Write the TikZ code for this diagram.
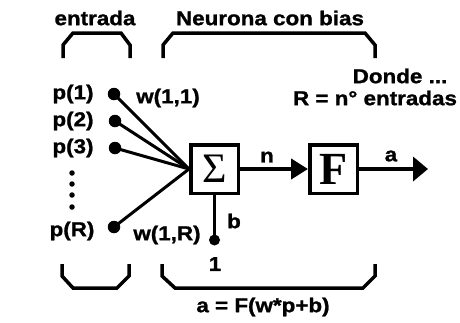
\documentclass[tikz,border=0pt]{standalone}
\usepackage{fontspec}
\setmainfont{Liberation Sans}[FakeStretch=1.12]
\newfontfamily\lblfont{Liberation Sans}[FakeStretch=1.12,FakeBold=1.2]
\newfontfamily\serifbig{Liberation Serif}
\usetikzlibrary{arrows.meta}
\begin{document}
\begin{tikzpicture}[x=1pt,y=-1pt,
 lbl/.style={font=\lblfont\fontsize{20}{22}\selectfont\bfseries, inner sep=0pt},
 brk/.style={line width=3.5pt, line join=miter},
 blk/.style={draw, line width=3.5pt, minimum width=47.5pt, minimum height=48.5pt, inner sep=0pt},
 wire/.style={line width=3pt},
 dotn/.style={circle, fill, inner sep=0pt, minimum size=12.5pt},
 sdot/.style={circle, fill, inner sep=0pt, minimum size=5.5pt},
 arrn/.style={line width=4.5pt, -{Triangle[length=17pt,width=20pt]}},
 arra/.style={line width=4.5pt, -{Triangle[length=15pt,width=24pt]}}
]
\useasboundingbox (0,0) rectangle (460,322);
% headings
\node[lbl] (tin) at (95,18) {entrada};
\node[lbl] (tneu) at (270,18) {Neurona con bias};
\node[lbl] (tdon) at (400,76) {Donde ...};
\node[lbl] (tr) at (375,98) {R = n° entradas};
\node[lbl] (tfor) at (263,307) {a = F(w*p+b)};
% brackets
\draw[brk] (63,58) -- (63,45) -- (73,33) -- (121,33) -- (130,45) -- (130,58);
\draw[brk] (163,58) -- (163,45) -- (173,33) -- (365,33) -- (375,45) -- (375,58);
\draw[brk] (62,264) -- (62,276) -- (73,288) -- (117,288) -- (129,276) -- (129,264);
\draw[brk] (162,264) -- (162,276) -- (175,288) -- (363,288) -- (375,276) -- (375,264);
% inputs
\node[lbl] (p1) at (73,94) {p(1)};
\node[lbl] (p2) at (73,121) {p(2)};
\node[lbl] (p3) at (73,148) {p(3)};
\node[lbl] (pR) at (72,231) {p(R)};
\node[sdot] (v1) at (72,173) {};
\node[sdot] (v2) at (72,184) {};
\node[sdot] (v3) at (72,195) {};
\node[sdot] (v4) at (72,207) {};
\node[dotn] (d1) at (114,94) {};
\node[dotn] (d2) at (115,121) {};
\node[dotn] (d3) at (115,148) {};
\node[dotn] (dR) at (114,227) {};
\node[lbl] (w11) at (168,98) {w(1,1)};
\node[lbl] (w1R) at (167,235) {w(1,R)};
% blocks
\node[blk] (sig) at (214.5,169) {\serifbig\fontsize{42}{42}\selectfont\raisebox{1pt}{Σ}};
\node[blk] (F) at (333.5,169) {\serifbig\fontsize{46}{46}\selectfont\bfseries F};
\draw[wire] (d1.center) -- (sig.west);
\draw[wire] (d2.center) -- (sig.west);
\draw[wire] (d3.center) -- (sig.west);
\draw[wire] (dR.center) -- (sig.west);
% bias
\node[dotn, minimum size=11pt] (bd) at (214.5,240) {};
\draw[line width=3.5pt] (sig.south) -- (bd.center);
\node[lbl] (lb) at (234,221) {b};
\node[lbl] (l1) at (215,264) {1};
% outputs
\draw[arrn] (sig.east) -- (F.west);
\node[lbl] (ln) at (267,157) {n};
\coordinate (out) at (428,169);
\draw[arra] (F.east) -- (out);
\node[lbl] (la) at (391,156) {a};
\end{tikzpicture}
\end{document}
